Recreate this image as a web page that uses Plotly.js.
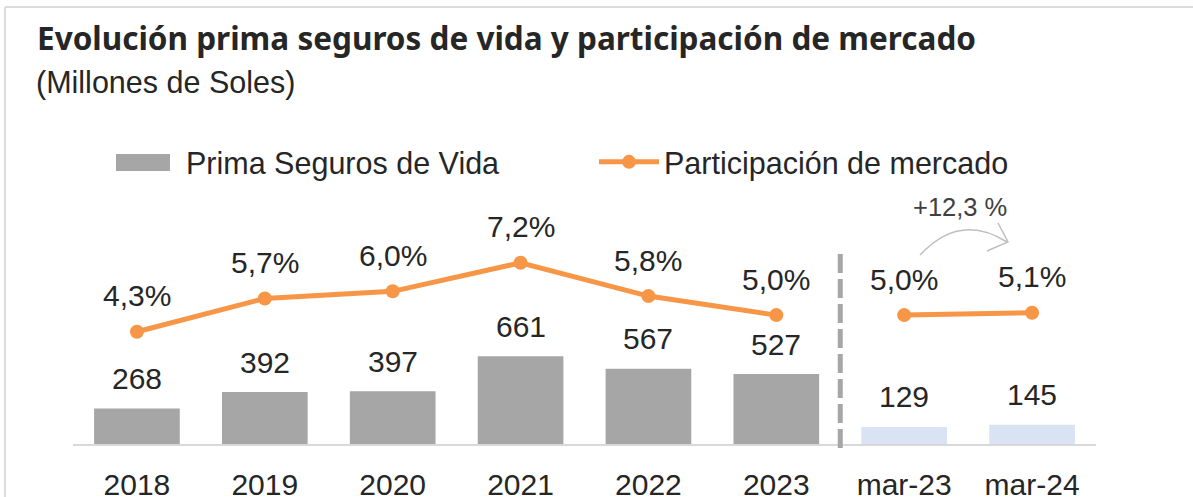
<!DOCTYPE html>
<html>
<head>
<meta charset="utf-8">
<script src="https://cdn.plot.ly/plotly-3.0.1.min.js"></script>
<style>
html,body{margin:0;padding:0;background:#ffffff;}
#chart{width:1193px;height:497px;}
</style>
</head>
<body>
<div id="chart"></div>
<script>
// ---- data ----
const categories = ['2018', '2019', '2020', '2021', '2022', '2023', 'mar-23', 'mar-24'];
const primaSegurosVida = [268, 392, 397, 661, 567, 527, 129, 145];
const anualCategories = ['2018', '2019', '2020', '2021', '2022', '2023'];
const participacionAnual = [4.3, 5.7, 6.0, 7.2, 5.8, 5.0];
const trimestreCategories = ['mar-23', 'mar-24'];
const participacionTrimestral = [5.0, 5.1];
const variacionTrimestral = '+12,3 %';

// ---- style ----
const FONT = 'Liberation Sans, Arial, sans-serif';
const TXT = '#262626';
const ORANGE = '#F79646';
const GRAY = '#A6A6A6';
const LIGHTBLUE = '#DAE3F3';
const LABEL_SIZE = 30;
const barColors = categories.map(c => trimestreCategories.includes(c) ? LIGHTBLUE : GRAY);
const fmtPct = v => v.toFixed(1).replace('.', ',') + '%';
const catIndex = c => categories.indexOf(c);

// plot geometry helpers (for decorations only)
const L = 73, R = 97, T = 200, B = 53, W = 1193, H = 497;
const pw = W - L - R, ph = H - T - B;
const px = x => (x - L) / pw;
const py = y => (H - B - y) / ph;

const traces = [
  {
    type: 'bar', x: categories, y: primaSegurosVida, name: 'Prima Seguros de Vida',
    marker: {color: barColors}, yaxis: 'y', legend: 'legend', hoverinfo: 'x+y'
  },
  {
    type: 'scatter', mode: 'lines+markers', x: anualCategories, y: participacionAnual,
    name: 'Participación de mercado', yaxis: 'y2', legend: 'legend2',
    line: {color: ORANGE, width: 5}, marker: {color: ORANGE, size: 14}
  },
  {
    type: 'scatter', mode: 'lines+markers', x: trimestreCategories, y: participacionTrimestral,
    name: 'Participación de mercado', yaxis: 'y2', showlegend: false,
    line: {color: ORANGE, width: 5}, marker: {color: ORANGE, size: 14}
  }
];

const annotations = [];
categories.forEach((c, i) => {
  annotations.push({
    x: catIndex(c), y: primaSegurosVida[i], xref: 'x', yref: 'y', text: String(primaSegurosVida[i]),
    showarrow: false, yanchor: 'middle', yshift: 30, font: {family: FONT, size: LABEL_SIZE, color: TXT}
  });
});
anualCategories.forEach((c, i) => {
  annotations.push({
    x: catIndex(c), y: participacionAnual[i], xref: 'x', yref: 'y2', text: fmtPct(participacionAnual[i]),
    showarrow: false, yanchor: 'middle', yshift: 36, font: {family: FONT, size: LABEL_SIZE, color: TXT}
  });
});
trimestreCategories.forEach((c, i) => {
  annotations.push({
    x: catIndex(c), y: participacionTrimestral[i], xref: 'x', yref: 'y2', text: fmtPct(participacionTrimestral[i]),
    showarrow: false, yanchor: 'middle', yshift: 36, font: {family: FONT, size: LABEL_SIZE, color: TXT}
  });
});
annotations.push({
  x: px(34), y: py(82), xref: 'paper', yref: 'paper', xanchor: 'left', yanchor: 'middle',
  text: '(Millones de Soles)', showarrow: false, font: {family: FONT, size: 30.5, color: TXT}
});
annotations.push({
  x: px(960), y: py(207), xref: 'paper', yref: 'paper', xanchor: 'center', yanchor: 'middle',
  text: variacionTrimestral, showarrow: false, font: {family: FONT, size: 25.5, color: '#404040'}
});

const shapes = [
  // frame
  {type: 'line', xref: 'paper', yref: 'paper', x0: px(5), x1: px(1193), y0: py(7), y1: py(7), line: {color: '#DCDCDC', width: 2}},
  {type: 'line', xref: 'paper', yref: 'paper', x0: px(5), x1: px(5), y0: py(7), y1: py(497), line: {color: '#DCDCDC', width: 2}},
  // wide legend swatch for the bar series
  {type: 'rect', xref: 'paper', yref: 'paper', x0: px(116), x1: px(170), y0: py(171), y1: py(154),
   fillcolor: GRAY, line: {width: 0}},
  // separator annual / quarterly
  {type: 'line', xref: 'x', yref: 'paper', x0: 5.5, x1: 5.5, y0: py(448), y1: py(253), line: {color: GRAY, width: 5, dash: '19px,6px'}},
  // curved arrow
  {type: 'path', xref: 'paper', yref: 'paper',
   path: `M${px(920)},${py(255)} Q${px(960)},${py(212)} ${px(1007)},${py(242)}`,
   line: {color: '#BFBFBF', width: 1.5}},
  {type: 'path', xref: 'paper', yref: 'paper',
   path: `M${px(998)},${py(223)} L${px(1008)},${py(242)} L${px(987)},${py(251)}`,
   line: {color: '#BFBFBF', width: 1.5}}
];

const layout = {
  width: W, height: H,
  margin: {l: L, r: R, t: T, b: B, pad: 0},
  paper_bgcolor: '#ffffff', plot_bgcolor: '#ffffff',
  font: {family: FONT, color: TXT},
  title: {
    text: 'Evolución prima seguros de vida y participación de mercado',
    x: 37 / W, xanchor: 'left', xref: 'container',
    y: 1 - 39 / H, yanchor: 'middle', yref: 'container',
    font: {family: 'Noto Sans, sans-serif', size: 31.5, weight: 700, color: TXT}
  },
  bargap: 0.33,
  xaxis: {
    type: 'category', range: [-0.5, 7.5], showgrid: false, zeroline: false,
    showline: true, linecolor: '#D9D9D9', linewidth: 2, ticks: '',
    ticklabelstandoff: 13,
    tickfont: {family: FONT, size: LABEL_SIZE, color: TXT}, fixedrange: true
  },
  yaxis: {range: [0, 1840], visible: false, fixedrange: true},
  yaxis2: {range: [-0.42, 9.84], overlaying: 'y', visible: false, fixedrange: true},
  legend: {
    orientation: 'h', x: px(116), xanchor: 'left', y: py(162), yanchor: 'middle',
    font: {family: FONT, size: 30.5, color: TXT}, itemwidth: 60, bgcolor: 'rgba(0,0,0,0)'
  },
  legend2: {
    orientation: 'h', x: px(594), xanchor: 'left', y: py(162), yanchor: 'middle',
    font: {family: FONT, size: 30.5, color: TXT}, itemwidth: 60, bgcolor: 'rgba(0,0,0,0)'
  },
  annotations: annotations,
  shapes: shapes,
  showlegend: true
};

Plotly.newPlot('chart', traces, layout, {displayModeBar: false});
</script>
</body>
</html>
